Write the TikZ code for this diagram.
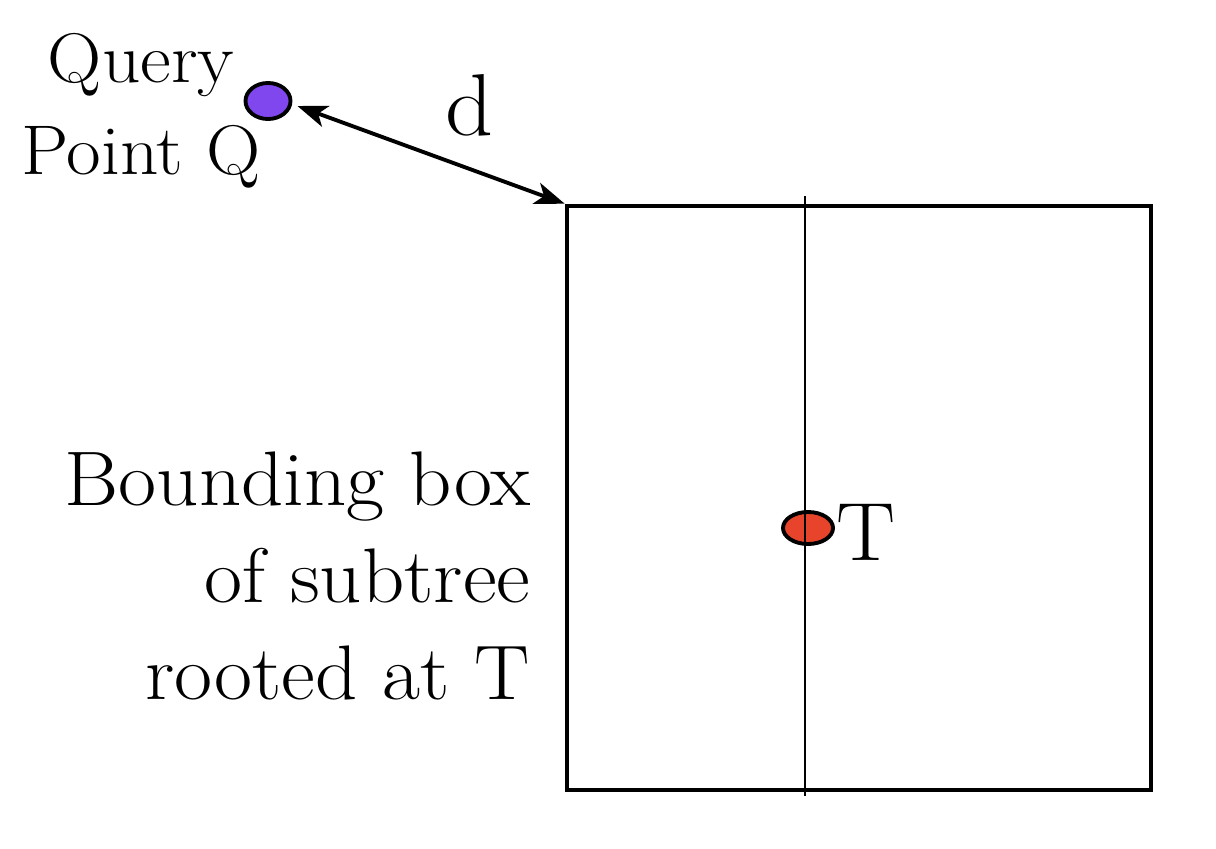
\documentclass[tikz,border=0pt]{standalone}
\usepackage{fontspec}
\setmainfont{Latin Modern Roman}[FakeStretch=1.07]
\usetikzlibrary{arrows.meta,shapes.geometric}
\definecolor{qpurple}{HTML}{8147EE}
\definecolor{tred}{HTML}{E8442B}
\tikzset{
  lbl/.style={inner sep=0pt},
  pt/.style={ellipse, draw=black, line width=1.1pt, inner sep=0pt},
  frame/.style={draw=black, line width=1.2pt, minimum width=5.84cm, minimum height=5.84cm, inner sep=0pt},
}
\begin{document}
\begin{tikzpicture}[x=0.01cm,y=-0.01cm]
\useasboundingbox (0,0) rectangle (1216,848);
\node[frame] (box) at (859,498) {};
\coordinate (vtop) at (805,196);
\coordinate (vbot) at (805,796);
\draw[line width=0.45pt] (vtop) -- (vbot);
\node[pt, fill=tred, minimum width=0.5cm, minimum height=0.32cm] (T) at (808,528) {};
\draw[line width=0.45pt] (805,512) -- (805,545);
\node[lbl, font=\fontsize{23.5}{28}\selectfont, anchor=base west] (Tl) at (836,560) {T};
\node[pt, fill=qpurple, minimum width=0.45cm, minimum height=0.36cm] (Q) at (268,101) {};
\node[lbl, align=center, anchor=center, font=\fontsize{20}{26.2}\selectfont] (Ql) at (141,111) {Query\\Point Q};
\node[lbl, align=right, anchor=east, font=\fontsize{22}{27.6}\selectfont] (Bl) at (531,576) {Bounding box\\of subtree\\rooted at T};
\node[lbl, font=\fontsize{25}{30}\selectfont, anchor=base] (d) at (470,135) {d};
\draw[line width=1.1pt, {Stealth[length=0.3cm,width=0.22cm,inset=0.08cm]}-{Stealth[length=0.3cm,width=0.22cm,inset=0.08cm]}] (Q.east) ++(5,5) -- (box.north west);
\end{tikzpicture}
\end{document}
